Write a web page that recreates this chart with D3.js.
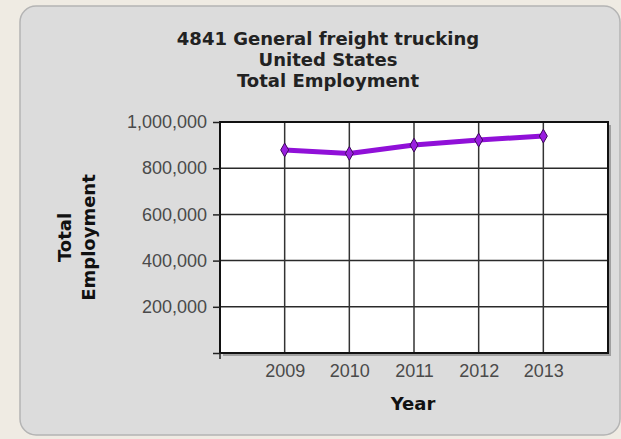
<!DOCTYPE html>
<html>
  <head>
    <meta charset="utf-8" />
    <script src="https://cdn.jsdelivr.net/npm/d3@7"></script>
    <style>
      html, body { margin: 0; padding: 0; background: #efebe3; overflow: hidden; }
      svg { display: block; }
    </style>
  </head>
  <body>
    <svg width="621" height="439" id="mainsvg"></svg>
    <script>
      const years = [2009, 2010, 2011, 2012, 2013];
      const employment = [879000, 864000, 900000, 922000, 939000];
      const yTicks = [0, 200000, 400000, 600000, 800000, 1000000];
      const titleLines = ["4841 General freight trucking", "United States", "Total Employment"];

      const svg = d3.select("#mainsvg");
      const margin = { top: 122, right: 13, bottom: 86, left: 220 };
      const width = +svg.attr("width");
      const height = +svg.attr("height");
      const innerWidth = width - margin.left - margin.right; // 388
      const innerHeight = height - margin.top - margin.bottom; // 231

      // panel
      svg.append("rect")
        .attr("x", 20).attr("y", 6)
        .attr("width", 600).attr("height", 429)
        .attr("rx", 16)
        .attr("fill", "#dcdcdc")
        .attr("stroke", "#b4b4b4")
        .attr("stroke-width", 1.5);

      // title
      svg.append("text")
        .attr("text-anchor", "middle")
        .attr("font-family", "DejaVu Sans")
        .attr("font-weight", "bold")
        .attr("font-size", 18)
        .attr("fill", "#222")
        .selectAll("tspan")
        .data(titleLines)
        .join("tspan")
        .attr("x", 328)
        .attr("y", (d, i) => 45 + i * 21)
        .text((d) => d);

      const g = svg.append("g")
        .attr("transform", `translate(${margin.left}, ${margin.top})`);

      const x = d3.scaleLinear()
        .domain([d3.min(years) - 1, d3.max(years) + 1])
        .range([0, innerWidth]);
      const y = d3.scaleLinear()
        .domain([0, 1000000])
        .range([innerHeight, 0]);

      // shadow + plot background
      g.append("rect")
        .attr("x", 3).attr("y", 3)
        .attr("width", innerWidth).attr("height", innerHeight)
        .attr("fill", "#777").attr("opacity", 0.6);
      g.append("rect")
        .attr("width", innerWidth).attr("height", innerHeight)
        .attr("fill", "#fff");

      // grid
      g.append("g")
        .selectAll("line")
        .data(yTicks)
        .join("line")
        .attr("x1", 0).attr("x2", innerWidth)
        .attr("y1", (d) => y(d)).attr("y2", (d) => y(d))
        .attr("stroke", "#2a2a2a").attr("stroke-width", 1.5);
      g.append("g")
        .selectAll("line")
        .data(years)
        .join("line")
        .attr("x1", (d) => x(d)).attr("x2", (d) => x(d))
        .attr("y1", 0).attr("y2", innerHeight)
        .attr("stroke", "#333").attr("stroke-width", 1.5);

      g.append("rect")
        .attr("width", innerWidth).attr("height", innerHeight)
        .attr("fill", "none")
        .attr("stroke", "#111").attr("stroke-width", 2);

      // y axis
      const yAxis = d3.axisLeft(y)
        .tickValues(yTicks)
        .tickSize(7)
        .tickPadding(6)
        .tickFormat((d) => (d === 0 ? "" : d3.format(",")(d)));
      const yg = g.append("g").call(yAxis);
      yg.select(".domain").remove();
      yg.selectAll(".tick line").attr("stroke", "#222").attr("stroke-width", 1.5);
      yg.selectAll(".tick text")
        .attr("font-family", "Liberation Sans")
        .attr("font-size", 18)
        .attr("fill", "#4a4a4a");

      // x axis
      const xAxis = d3.axisBottom(x)
        .tickValues(years)
        .tickSize(0)
        .tickPadding(11)
        .tickFormat(d3.format("d"));
      const xg = g.append("g")
        .attr("transform", `translate(0, ${innerHeight})`)
        .call(xAxis);
      xg.select(".domain").remove();
      xg.selectAll(".tick text")
        .attr("font-family", "Liberation Sans")
        .attr("font-size", 18)
        .attr("fill", "#4a4a4a");
      g.append("line")
        .attr("x1", 0).attr("x2", 0)
        .attr("y1", innerHeight).attr("y2", innerHeight + 6)
        .attr("stroke", "#222").attr("stroke-width", 1.5);

      // axis titles
      svg.append("text")
        .attr("x", 413).attr("y", 410)
        .attr("text-anchor", "middle")
        .attr("font-family", "DejaVu Sans")
        .attr("font-weight", "bold")
        .attr("font-size", 18)
        .attr("fill", "#111")
        .text("Year");

      svg.append("text")
        .attr("transform", `translate(0, ${margin.top + innerHeight / 2}) rotate(-90)`)
        .attr("text-anchor", "middle")
        .attr("font-family", "DejaVu Sans")
        .attr("font-weight", "bold")
        .attr("font-size", 18)
        .attr("fill", "#111")
        .selectAll("tspan")
        .data(["Total", "Employment"])
        .join("tspan")
        .attr("x", 0)
        .attr("y", (d, i) => 71 + i * 24)
        .text((d) => d);

      // line
      const data = years.map((yr, i) => ({ year: yr, value: employment[i] }));
      g.append("path")
        .datum(data)
        .attr("fill", "none")
        .attr("stroke", "#9010d8")
        .attr("stroke-width", 5)
        .attr("stroke-linejoin", "round")
        .attr("d", d3.line().x((d) => x(d.year)).y((d) => y(d.value)));

      g.selectAll(".pt")
        .data(data)
        .join("path")
        .attr("class", "pt")
        .attr("transform", (d) => `translate(${x(d.year)}, ${y(d.value)})`)
        .attr("d", d3.symbol(d3.symbolDiamond, 55))
        .attr("fill", "#9a1ee0")
        .attr("stroke", "#3c0a5a")
        .attr("stroke-width", 1);
    </script>
  </body>
</html>
